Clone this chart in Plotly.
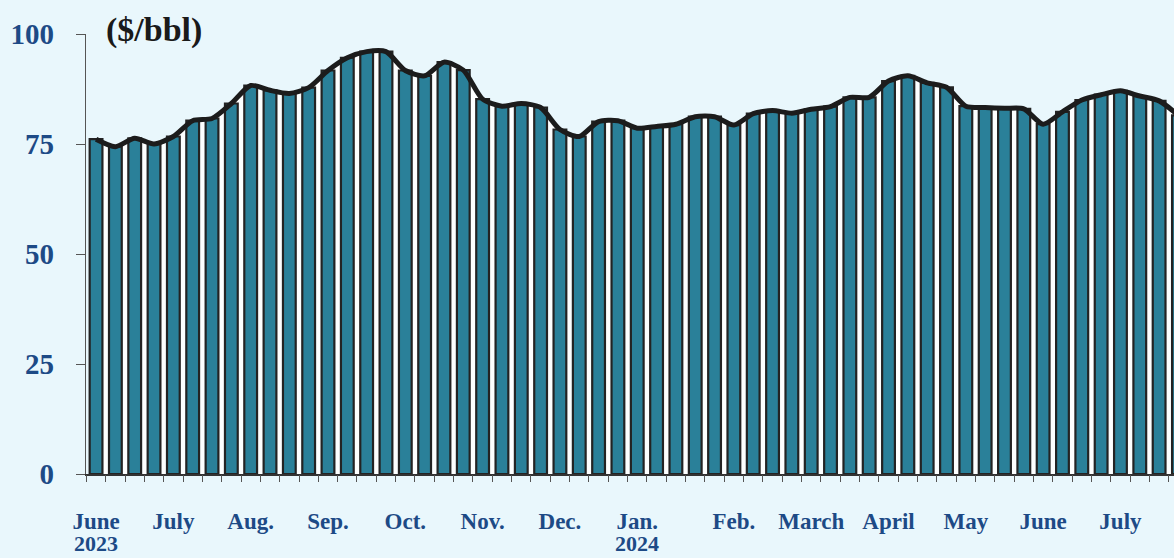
import plotly.graph_objects as go

# Weekly crude price ($/bbl), June 2023 - Aug 2024
weeks = list(range(57))
prices = [76.1, 74.4, 76.3, 75.0, 76.7, 80.3, 80.8, 84.2, 88.3, 87.2,
          86.5, 87.8, 91.7, 94.6, 96.0, 96.0, 91.7, 90.5, 93.6, 91.8,
          85.2, 83.6, 84.2, 83.3, 78.3, 76.7, 80.1, 80.3, 78.6, 79.0,
          79.5, 81.2, 81.2, 79.3, 81.9, 82.6, 82.0, 82.9, 83.5, 85.6,
          85.6, 89.3, 90.5, 88.9, 87.9, 83.6, 83.3, 83.1, 83.0, 79.5,
          82.3, 85.0, 86.2, 87.1, 85.9, 84.8, 81.5]

month_pos = [0, 4, 8, 12, 16, 20, 24, 28, 33, 37, 41, 45, 49, 53]
month_labels = ["June", "July", "Aug.", "Sep.", "Oct.", "Nov.", "Dec.",
                "Jan.", "Feb.", "March", "April", "May", "June", "July"]
year_pos = [0, 28]
year_labels = ["2023", "2024"]
y_ticks = [0, 25, 50, 75, 100]

XR = [-0.52, 55.77]
NAVY = "#1d4a86"
SERIF = "Liberation Serif, Times New Roman, serif"

fig = go.Figure()

# white area under the curve (base subplot, drawn beneath the bars)
fig.add_trace(go.Scatter(x=weeks, y=prices, mode="lines",
                         line=dict(width=0, shape="spline", smoothing=0.7),
                         fill="tozeroy", fillcolor="rgba(255,255,255,0.9)",
                         hoverinfo="skip", showlegend=False,
                         xaxis="x", yaxis="y"))

# bars
fig.add_trace(go.Bar(x=weeks, y=prices, width=0.66,
                     marker=dict(color="#2a8099",
                                 line=dict(color="#232323", width=2.2)),
                     showlegend=False, xaxis="x2", yaxis="y2"))

# line on top
fig.add_trace(go.Scatter(x=weeks, y=prices, mode="lines",
                         line=dict(color="#1c1c1c", width=5, shape="spline", smoothing=0.7),
                         showlegend=False, xaxis="x2", yaxis="y2"))

annotations = [dict(text="($/bbl)", xref="paper", yref="paper",
                    x=0.0165, y=1.01, xanchor="left", yanchor="middle",
                    showarrow=False,
                    font=dict(family=SERIF, size=34, color="#1a1a1a", weight="bold"))]
for xp, yl in zip(year_pos, year_labels):
    annotations.append(dict(text=yl, xref="x", yref="paper", x=xp, y=-0.158,
                            xanchor="center", yanchor="middle", showarrow=False,
                            font=dict(family=SERIF, size=22, color=NAVY, weight="bold")))

fig.update_layout(
    width=1174, height=558, autosize=False,
    margin=dict(l=86, r=0, t=34, b=84),
    paper_bgcolor="#e9f7fc", plot_bgcolor="rgba(0,0,0,0)",
    xaxis=dict(range=XR, tickmode="array", tickvals=month_pos, ticktext=month_labels,
               ticks="", showgrid=False, zeroline=False,
               showline=True, linecolor="#333333", linewidth=1.5,
               tickfont=dict(family=SERIF, size=23, color=NAVY, weight="bold"),
               ticklabelstandoff=26),
    yaxis=dict(range=[0, 100], tickmode="array", tickvals=y_ticks,
               ticks="outside", ticklen=9, tickcolor="#555555", tickwidth=1.2,
               showgrid=False, zeroline=False,
               showline=True, linecolor="#555555", linewidth=1.2,
               tickfont=dict(family=SERIF, size=29, color=NAVY, weight="bold"),
               ticklabelstandoff=16),
    xaxis2=dict(range=XR, overlaying="x", anchor="y2", side="bottom",
                tickmode="linear", tick0=-0.5, dtick=1,
                ticks="outside", ticklen=7, tickcolor="#555555", tickwidth=1.2,
                showticklabels=False, showgrid=False, zeroline=False, showline=False),
    yaxis2=dict(range=[0, 100], overlaying="y", anchor="x2", visible=False),
    annotations=annotations,
)

fig.write_html("out.html", config={"displayModeBar": False},
               post_script="document.body.style.margin='0';document.body.style.padding='0';")
